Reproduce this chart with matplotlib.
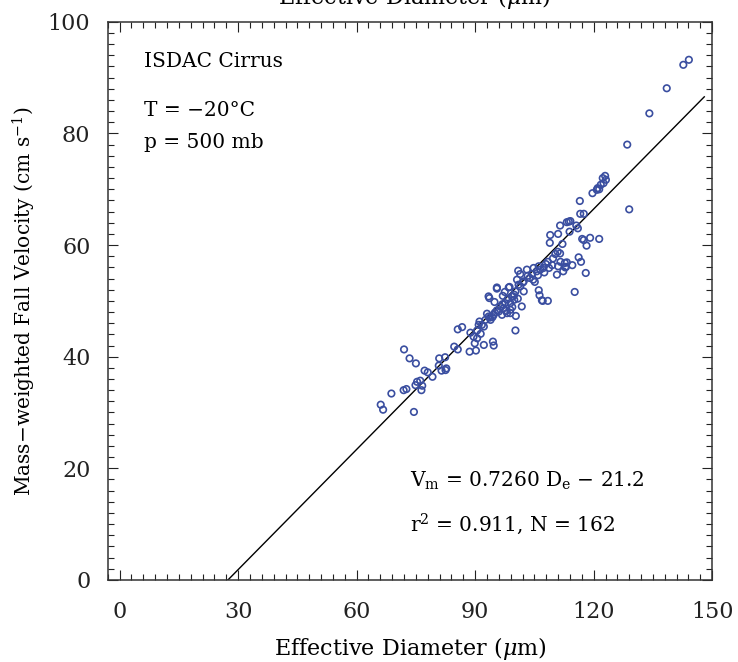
import matplotlib
matplotlib.use("Agg")
import matplotlib.pyplot as plt
from matplotlib.ticker import MultipleLocator
import numpy as np

# effective diameter (um) and mass-weighted fall velocity (cm/s)
diam = [
    66.1, 66.7, 68.8, 71.9, 72.6, 72.0, 73.4, 75.0, 74.5, 74.9, 75.3, 76.1, 76.6, 76.4,
    77.2, 78.0, 79.2, 80.9, 82.4, 80.8, 81.5, 82.7, 82.5, 84.7, 85.6, 85.6, 86.7,
    88.8, 89.6, 90.5, 88.6, 90.2, 92.2, 94.5, 94.7, 90.5, 91.7, 91.1, 92.6, 93.0, 93.7,
    94.4, 95.5, 93.4, 95.5, 92.2, 90.9, 93.4, 93.9, 94.7, 93.6, 95.5,
    97.0, 98.5, 98.9, 97.2, 98.9, 100.3, 101.8, 99.6, 100.2, 102.3, 101.4, 102.3, 100.2,
    96.8, 98.1, 98.9, 96.4, 97.6, 99.9, 99.3, 99.9, 98.7, 101.0, 102.1, 100.6, 101.4,
    103.1, 104.4, 106.1, 106.3, 107.1, 108.4, 106.1, 107.3, 110.7, 111.0, 111.6, 112.7,
    113.0, 104.7, 105.1, 103.3, 104.8, 105.6, 106.5, 107.5, 108.7, 112.8, 113.2, 108.4,
    109.7, 110.3, 110.9, 111.5, 112.1, 108.9, 109.0, 111.0, 111.5, 106.9,
    115.2, 116.2, 116.8, 118.0, 118.2, 117.5, 119.1, 121.4, 117.1, 113.9, 115.6, 116.0,
    113.2, 113.7, 114.1, 116.6, 117.5, 116.5, 119.7, 120.8, 121.0, 121.4, 121.8, 122.5,
    122.3, 122.9, 123.1, 128.5, 129.0, 134.1, 138.5, 142.7, 144.1,
    95.0, 96.0, 97.8, 99.4, 96.9, 94.9, 98.2, 100.8, 97.5, 103.8, 105.9, 109.5, 107.9,
    91.4, 89.9, 100.9, 114.6, 112.3,
]
vfall = [
    31.4, 30.5, 33.4, 34.0, 34.2, 41.3, 39.7, 38.8, 30.1, 34.9, 35.5, 35.7, 34.8, 34.0,
    37.5, 37.2, 36.4, 39.7, 39.9, 38.4, 37.5, 37.9, 37.6, 41.8, 41.3, 44.9, 45.3,
    44.3, 43.6, 43.3, 40.9, 41.1, 42.1, 42.7, 42.0, 44.7, 45.7, 46.3, 46.6, 47.7, 47.0,
    47.1, 48.3, 50.8, 52.4, 45.4, 45.7, 47.2, 46.6, 47.5, 50.5, 52.2,
    50.9, 52.4, 49.6, 48.7, 47.8, 47.3, 49.0, 50.8, 51.7, 51.7, 52.6, 53.5, 44.7,
    47.5, 47.8, 48.4, 49.0, 49.6, 50.2, 50.8, 51.1, 52.5, 52.9, 53.3, 53.8, 54.8,
    55.6, 54.8, 51.9, 51.0, 50.0, 50.0, 56.2, 55.9, 54.7, 56.2, 57.0, 56.8,
    56.1, 53.8, 53.4, 54.5, 55.9, 55.3, 55.6, 55.1, 55.9, 56.0, 56.9, 57.0,
    57.6, 58.4, 58.8, 58.5, 60.2, 60.4, 61.8, 62.0, 63.5, 50.1,
    51.6, 57.8, 57.0, 55.0, 59.9, 60.9, 61.3, 61.1, 61.1, 62.4, 63.5, 63.0,
    64.1, 64.2, 64.3, 65.6, 65.6, 67.9, 69.3, 69.9, 70.2, 70.0, 70.8, 71.1,
    72.0, 72.4, 71.7, 78.0, 66.4, 83.6, 88.1, 92.3, 93.2,
    47.9, 48.1, 48.2, 48.9, 49.4, 49.8, 50.3, 50.4, 51.6, 54.1, 54.6, 56.4, 56.6,
    44.1, 42.4, 55.4, 56.4, 55.3,
]

# fitted line as drawn in the figure
fit_slope = 0.718
fit_icpt = -19.7
fit_xmax = 148

plt.rcParams['font.family'] = ['DejaVu Serif']
plt.rcParams['mathtext.fontset'] = 'dejavuserif'

fig = plt.figure(figsize=(7.38, 6.62), dpi=100)
ax = fig.add_axes([0.146, 0.124, 0.819, 0.843])

ax.scatter(diam, vfall, s=22, facecolors='none', edgecolors='#3a4ea0', linewidths=1.2, zorder=3)

xs = np.array([-fit_icpt / fit_slope, fit_xmax])
ax.plot(xs, fit_slope * xs + fit_icpt, color='black', lw=1.0)

ax.set_xlim(-3, 150)
ax.set_ylim(0, 100)
ax.xaxis.set_major_locator(MultipleLocator(30))
ax.xaxis.set_minor_locator(MultipleLocator(3))
ax.yaxis.set_major_locator(MultipleLocator(20))
ax.yaxis.set_minor_locator(MultipleLocator(2))
ax.tick_params(which='both', direction='in', top=True, right=True, width=0.8, colors='#222222')
ax.tick_params(which='major', length=7.5, labelsize=16)
ax.tick_params(which='minor', length=4.5)
ax.tick_params(axis='x', which='major', pad=15)
ax.tick_params(axis='y', which='major', pad=12.5)
for sp in ax.spines.values():
    sp.set_linewidth(1.1)
    sp.set_color('#333333')

ax.set_xlabel(r'Effective Diameter ($\mu$m)', fontsize=16, labelpad=9)
ax.set_ylabel('Mass\u2212weighted Fall Velocity (cm s$^{-1}$)', fontsize=14.5, labelpad=7)

ax.text(6.1, 91.9, 'ISDAC Cirrus', fontsize=14.5)
ax.text(6.1, 83.2, 'T = \u221220\u00b0C', fontsize=14.5)
ax.text(6.1, 77.4, 'p = 500 mb', fontsize=14.5)
ax.text(73.6, 16.7, r'V$_\mathrm{m}$ = 0.7260 D$_\mathrm{e}$ $-$ 21.2', fontsize=14.5)
ax.text(73.6, 8.66, r'r$^2$ = 0.911, N = 162', fontsize=14.5)

# clipped label of the panel above
fig.text(0.561, 1 - 4 / 662, r'Effective Diameter ($\mu$m)', fontsize=16, ha='center', va='baseline')

fig.savefig('out.png', dpi=100, facecolor='white')
